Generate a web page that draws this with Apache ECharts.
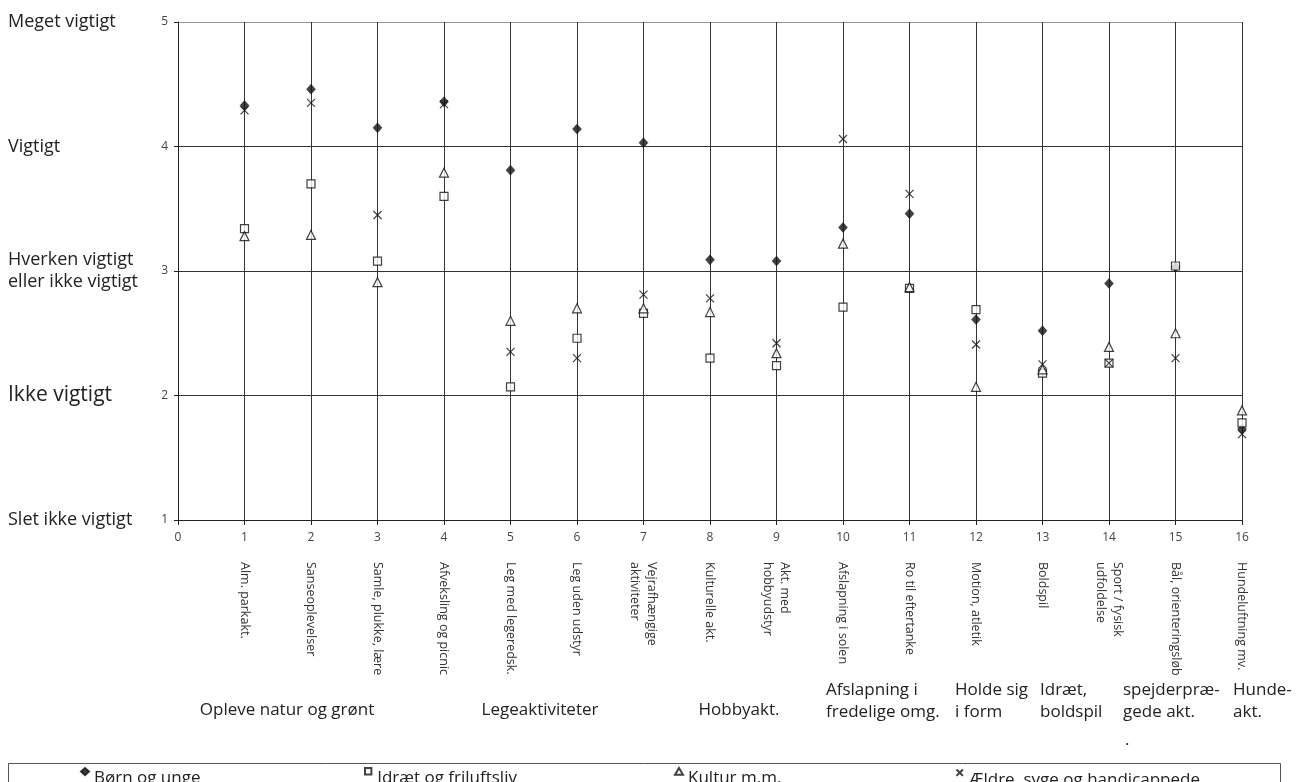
<!DOCTYPE html>
<html>
<head>
<meta charset="utf-8">
<script src="https://cdn.jsdelivr.net/npm/echarts@6/dist/echarts.min.js"></script>
<style>
html,body{margin:0;padding:0;background:#fff;}
#c{width:1296px;height:782px;}
</style>
</head>
<body>
<div id="c"></div>
<script>
// ---------- data ----------
const activities = ["Alm. parkakt.", "Sanseoplevelser", "Samle, plukke, lære", "Afveksling og picnic",
  "Leg med legeredsk.", "Leg uden udstyr", "Vejrafhængige\naktiviteter", "Kulturelle akt.",
  "Akt. med\nhobbyudstyr", "Afslapning i solen", "Ro til eftertanke", "Motion, atletik",
  "Boldspil", "Sport / fysisk\nudfoldelse", "Bål, orienteringsløb", "Hundeluftning mv."];
const xTicks = [0,1,2,3,4,5,6,7,8,9,10,11,12,13,14,15,16];
const yTicks = [1,2,3,4,5];
const importanceLabels = ["Slet ikke vigtigt", "Ikke vigtigt", "Hverken vigtigt\neller ikke vigtigt", "Vigtigt", "Meget vigtigt"];
const groupNames = ["Opleve natur og grønt", "Legeaktiviteter", "Hobbyakt.", "Afslapning i\nfredelige omg.",
  "Holde sig\ni form", "Idræt,\nboldspil", "spejderpræ-\ngede akt.", "Hunde-\nakt.", "."];
const seriesNames = ["Børn og unge", "Idræt og friluftsliv", "Kultur m.m.", "Ældre, syge og handicappede"];
const bornOgUnge = [4.33, 4.46, 4.15, 4.36, 3.81, 4.14, 4.03, 3.09, 3.08, 3.35, 3.46, 2.61, 2.52, 2.90, 3.03, 1.73];
const idraetFriluft = [3.34, 3.70, 3.08, 3.60, 2.07, 2.46, 2.66, 2.30, 2.24, 2.71, 2.86, 2.69, 2.18, 2.26, 3.04, 1.78];
const kultur = [3.28, 3.29, 2.91, 3.79, 2.60, 2.70, 2.70, 2.67, 2.34, 3.22, 2.87, 2.07, 2.21, 2.39, 2.50, 1.88];
const aeldre = [4.29, 4.35, 3.45, 4.34, 2.35, 2.30, 2.81, 2.78, 2.42, 4.06, 3.62, 2.41, 2.25, 2.26, 2.30, 1.69];

// ---------- chart ----------
const FONT = '"Open Sans", "DejaVu Sans", sans-serif';
const chart = echarts.init(document.getElementById('c'), null, {renderer: 'canvas'});
const toPts = arr => arr.map((v, i) => [i + 1, v]);
const crossPath = 'path://M0,0L10,10M10,0L0,10';

// legend icons: glyph in the upper part of a 10x26 box so it sits raised beside the text
const legendIcons = [
  'path://M5,0L10,4.5L5,9L0,4.5ZM5,26',
  'path://M1,0L9,0L9,8L1,8ZM5,26',
  'path://M5,0L10,8.5L0,8.5ZM5,26',
  'path://M1,0L9,8M9,0L1,8M5,26'
];

const groupPos = [
  {x: 287, y: 710, align: 'center'},
  {x: 540, y: 710, align: 'center'},
  {x: 739, y: 710, align: 'center'},
  {x: 826, y: 701, align: 'left'},
  {x: 955, y: 701, align: 'left'},
  {x: 1040, y: 701, align: 'left'},
  {x: 1123, y: 701, align: 'left'},
  {x: 1233, y: 701, align: 'left'},
  {x: 1125, y: 740, align: 'left'}
];

const graphics = groupNames.map((t, i) => ({
  type: 'text',
  style: {
    text: t, x: groupPos[i].x, y: groupPos[i].y,
    align: groupPos[i].align, verticalAlign: 'middle',
    fontSize: 17, fontFamily: FONT, fill: '#222', lineHeight: 22
  }
}));
graphics.push({
  type: 'rect',
  shape: {x: 8.5, y: 763.5, width: 1272, height: 40},
  style: {fill: 'none', stroke: '#555', lineWidth: 1},
  z: -1
});

const legendLeft = [75, 359, 669, 949];
const legends = seriesNames.map((n, i) => ({
  data: [{name: n, icon: legendIcons[i]}],
  left: legendLeft[i], top: 762,
  padding: 5,
  itemWidth: 8, itemHeight: 20.8,
  textStyle: {fontSize: 17, color: '#222', fontFamily: FONT},
  selectedMode: false
}));

const option = {
  backgroundColor: '#fff',
  animation: false,
  textStyle: {fontFamily: FONT},
  grid: {left: 178, right: 54, top: 22, bottom: 262, containLabel: false, outerBoundsMode: 'none'},
  xAxis: [
    {
      type: 'value', min: 0, max: 16, interval: 1,
      axisLine: {show: true, onZero: false, lineStyle: {color: '#222', width: 1}},
      axisTick: {show: true, length: 5, lineStyle: {color: '#222'}},
      axisLabel: {fontSize: 12, color: '#444', margin: 12, fontFamily: FONT,
        formatter: v => xTicks.indexOf(v) >= 0 ? String(v) : ''},
      splitLine: {show: true, lineStyle: {color: '#333', width: 1}}
    },
    {
      type: 'value', min: 0, max: 16, interval: 1, position: 'bottom', offset: 0,
      axisLine: {show: false}, axisTick: {show: false}, splitLine: {show: false},
      axisLabel: {rotate: -90, fontSize: 12.5, color: '#333', margin: 42, fontFamily: FONT, lineHeight: 17,
        showMinLabel: true, showMaxLabel: true,
        formatter: v => (v >= 1 && v <= 16) ? activities[v - 1] : ''}
    }
  ],
  yAxis: [
    {
      type: 'value', min: 1, max: 5, interval: 1,
      axisLine: {show: true, lineStyle: {color: '#222', width: 1}},
      axisTick: {show: true, length: 4, lineStyle: {color: '#222'}},
      axisLabel: {fontSize: 12, color: '#444', margin: 10, fontFamily: FONT,
        formatter: v => yTicks.indexOf(v) >= 0 ? String(v) : ''},
      splitLine: {show: true, lineStyle: {color: ['#222', '#333', '#333', '#333', '#999'], width: 1}}
    },
    {
      type: 'value', min: 1, max: 5, interval: 1, position: 'left', offset: 0,
      axisLine: {show: false}, axisTick: {show: false}, splitLine: {show: false},
      axisLabel: {align: 'left', margin: 170, fontSize: 18, color: '#222', fontFamily: FONT, lineHeight: 22,
        showMinLabel: true, showMaxLabel: true,
        formatter: v => {
          const t = importanceLabels[v - 1] || '';
          return v === 2 ? '{big|' + t + '}' : t;
        },
        rich: {big: {fontSize: 21, fontFamily: FONT, color: '#222'}}
      }
    }
  ],
  legend: legends,
  graphic: graphics,
  series: [
    {name: seriesNames[0], type: 'scatter', data: toPts(bornOgUnge), symbol: 'diamond', symbolSize: [9, 10],
      itemStyle: {color: '#111', borderColor: '#111', borderWidth: 0.5}, z: 3},
    {name: seriesNames[1], type: 'scatter', data: toPts(idraetFriluft), symbol: 'rect', symbolSize: 8,
      itemStyle: {color: '#fff', borderColor: '#111', borderWidth: 1.2}, z: 4},
    {name: seriesNames[2], type: 'scatter', data: toPts(kultur), symbol: 'triangle', symbolSize: 9,
      itemStyle: {color: '#fff', borderColor: '#111', borderWidth: 1.2}, z: 5},
    {name: seriesNames[3], type: 'scatter', data: toPts(aeldre), symbol: crossPath, symbolSize: 8,
      itemStyle: {color: 'none', borderColor: '#111', borderWidth: 1.2}, z: 6}
  ]
};
chart.setOption(option);
</script>
</body>
</html>
